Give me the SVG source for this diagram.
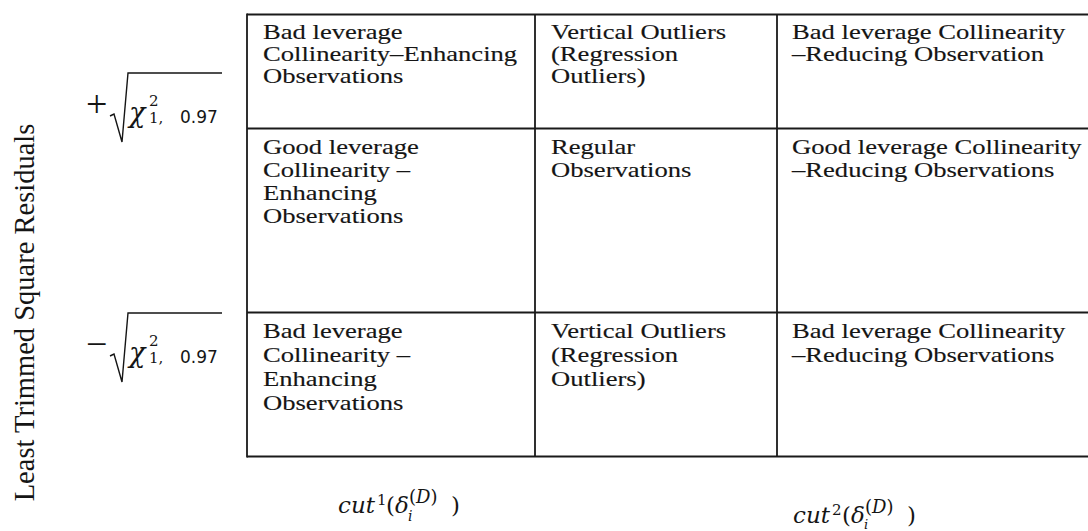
<svg xmlns="http://www.w3.org/2000/svg" width="1088" height="531" viewBox="0 0 1088 531">
<style>
.cell{font-family:"Liberation Serif","Times New Roman",serif;font-size:22px;fill:#151515;stroke:#151515;stroke-width:0.15}
.grid{stroke:#1a1a1a;stroke-width:1.8;fill:none}
.axis{font-family:"Liberation Serif","Times New Roman",serif;font-size:28.5px;fill:#151515}
.m{font-family:"DejaVu Serif","Liberation Serif",serif;fill:#151515}
.ls{font-family:"Liberation Serif","Times New Roman",serif;fill:#151515}
.mi{font-family:"DejaVu Serif","Liberation Serif",serif;font-style:italic;fill:#151515}
.ms{font-family:"DejaVu Sans","Liberation Sans",sans-serif;fill:#151515}
.rad{stroke:#151515;stroke-width:1.4;fill:none;stroke-linejoin:miter}
</style>
<rect width="1088" height="531" fill="#fff"/>
<g id="connectors" class="grid">
<path d="M247 14.5 H1088 M247 128.5 H1088 M247 312.5 H1088 M247 456.5 H1088"/>
<path d="M247 13.6 V457.4 M535 14.5 V456.5 M777 14.5 V456.5"/>
</g>
<g id="cell-r1c1"><text class="cell" transform="translate(263,39) scale(1.21,1)"><tspan x="0" y="0">Bad leverage</tspan><tspan x="0" y="22">Collinearity–Enhancing</tspan><tspan x="0" y="44">Observations</tspan></text></g>
<g id="cell-r1c2"><text class="cell" transform="translate(551,39) scale(1.21,1)"><tspan x="0" y="0">Vertical Outliers</tspan><tspan x="0" y="22">(Regression</tspan><tspan x="0" y="44">Outliers)</tspan></text></g>
<g id="cell-r1c3"><text class="cell" transform="translate(792,39) scale(1.21,1)"><tspan x="0" y="0">Bad leverage Collinearity</tspan><tspan x="0" y="22">–Reducing Observation</tspan></text></g>
<g id="cell-r2c1"><text class="cell" transform="translate(263,154) scale(1.21,1)"><tspan x="0" y="0">Good leverage</tspan><tspan x="0" y="23">Collinearity –</tspan><tspan x="0" y="46">Enhancing</tspan><tspan x="0" y="69">Observations</tspan></text></g>
<g id="cell-r2c2"><text class="cell" transform="translate(551,154) scale(1.21,1)"><tspan x="0" y="0">Regular</tspan><tspan x="0" y="23">Observations</tspan></text></g>
<g id="cell-r2c3"><text class="cell" transform="translate(792,154) scale(1.21,1)"><tspan x="0" y="0">Good leverage Collinearity</tspan><tspan x="0" y="23">–Reducing Observations</tspan></text></g>
<g id="cell-r3c1"><text class="cell" transform="translate(263,338) scale(1.21,1)"><tspan x="0" y="0">Bad leverage</tspan><tspan x="0" y="24">Collinearity –</tspan><tspan x="0" y="48">Enhancing</tspan><tspan x="0" y="72">Observations</tspan></text></g>
<g id="cell-r3c2"><text class="cell" transform="translate(551,338) scale(1.21,1)"><tspan x="0" y="0">Vertical Outliers</tspan><tspan x="0" y="24">(Regression</tspan><tspan x="0" y="48">Outliers)</tspan></text></g>
<g id="cell-r3c3"><text class="cell" transform="translate(792,338) scale(1.21,1)"><tspan x="0" y="0">Bad leverage Collinearity</tspan><tspan x="0" y="24">–Reducing Observations</tspan></text></g>
<g id="axis-label"><text class="axis" text-anchor="middle" transform="translate(34,312.5) rotate(-90)">Least Trimmed Square Residuals</text></g>
<g id="upper-threshold">
<text class="ls" x="86" y="116.5" font-size="38">+</text>
<path class="rad" d="M110 116 L114 114 L122 142 L128 73 H222"/>
<text class="mi" x="129" y="122" font-size="27">χ</text>
<text class="m" x="149" y="106" font-size="15">2</text>
<text class="m" x="149" y="123" font-size="15">1,</text>
<text class="ms" x="180" y="123" font-size="17">0.97</text>
</g>
<g id="lower-threshold">
<text class="ls" x="86" y="356.5" font-size="38">−</text>
<path class="rad" d="M110 356 L114 354 L122 382 L128 313 H222"/>
<text class="mi" x="129" y="362" font-size="27">χ</text>
<text class="m" x="149" y="346" font-size="15">2</text>
<text class="m" x="149" y="363" font-size="15">1,</text>
<text class="ms" x="180" y="363" font-size="17">0.97</text>
</g>
<g id="cut1">
<text class="mi" x="338" y="513" font-size="23">cut</text>
<text class="m" x="377" y="505" font-size="15">1</text>
<text class="m" x="386" y="513" font-size="23">(</text>
<text class="mi" x="395" y="513" font-size="23">δ</text>
<text class="mi" x="408" y="521" font-size="14">i</text>
<text class="m" x="409" y="503" font-size="18">(<tspan class="mi">D</tspan>)</text>
<text class="m" x="451" y="513" font-size="23">)</text>
</g>
<g id="cut2">
<text class="mi" x="793" y="523" font-size="23">cut</text>
<text class="m" x="832" y="515" font-size="15">2</text>
<text class="m" x="842" y="523" font-size="23">(</text>
<text class="mi" x="851" y="523" font-size="23">δ</text>
<text class="mi" x="864" y="529" font-size="13">i</text>
<text class="m" x="865" y="513" font-size="18">(<tspan class="mi">D</tspan>)</text>
<text class="m" x="907" y="523" font-size="23">)</text>
</g>
</svg>
